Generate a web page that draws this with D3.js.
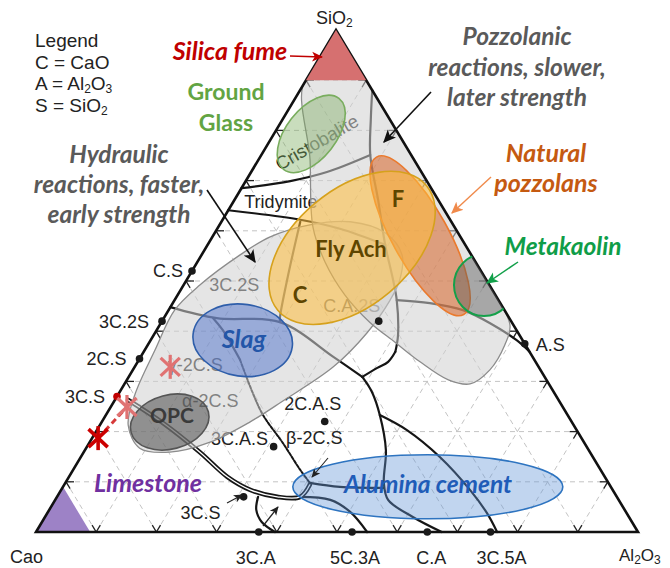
<!DOCTYPE html>
<html>
<head>
<meta charset="utf-8">
<script src="https://cdn.jsdelivr.net/npm/d3@7"></script>
<style>
  html, body { margin: 0; padding: 0; background: #fff; }
  svg { display: block; }
  .lbl { font-family: "Liberation Sans", Arial, sans-serif; font-size: 18px; fill: #222; }
  .leg { font-family: "Liberation Sans", Arial, sans-serif; font-size: 19px; fill: #222; }
  .ann { font-family: Lato, "Open Sans", sans-serif; font-weight: 700; }
</style>
</head>
<body>
<svg id="chart" width="670" height="568"></svg>
<script>
// ------------------------------------------------------------------
// Compositions are weight-% triples: [CaO, Al2O3, SiO2]
// ------------------------------------------------------------------

// Corners of the CaO - Al2O3 - SiO2 diagram
const vertices = [
  { name: "Cao",   comp: [100, 0, 0] },
  { name: "Al2O3", comp: [0, 100, 0] },
  { name: "SiO2",  comp: [0, 0, 100] }
];

// Grid levels (wt-%)
const gridLevels = [10, 20, 30, 40, 50, 60, 70, 80, 90];

// Compounds marked with a dot
const compounds = [
  { name: "C.S",    comp: [48, 0, 52] },
  { name: "3C.2S",  comp: [58, 0, 42] },
  { name: "2C.S",   comp: [65.5, 0, 34.5] },
  { name: "3C.S",   comp: [73, 0, 27] },
  { name: "3C.A",   comp: [63, 37, 0] },
  { name: "5C.3A",  comp: [47.5, 52.5, 0] },
  { name: "C.A",    comp: [35, 65, 0] },
  { name: "3C.5A",  comp: [24.5, 75.5, 0] },
  { name: "A.S",    comp: [0, 62.5, 37.5] },
  { name: "C.A.2S", comp: [22, 36, 42] },
  { name: "2C.A.S", comp: [41, 37, 22] },
  { name: "3C.A.S", comp: [52, 31, 17] },
  { name: "3C.S*",  comp: [62, 31, 7] }
];

// Primary-phase field names written inside the diagram
const fieldNames = [
  { name: "Cristobalite", comp: [14.45, 9.05, 76.5] },
  { name: "Tridymite",    comp: [26.95, 8.55, 64.5] },
  { name: "3C.2S",        comp: [43, 9, 48] },
  { name: "γ-2C.S",       comp: [57.5, 10.5, 32] },
  { name: "α-2C.S",       comp: [58.5, 16.5, 25] },
  { name: "β-2C.S",       comp: [45, 37.5, 17.5] }
];

// Liquidus boundary curves
const boundaryCristobalite = [[31.5,0,68.5],[22.7,7.4,69.9],[15.7,12.6,71.7],[6.8,18.1,75.1]];
const boundaryTridymite    = [[35.9,0,64.1],[24.9,12.9,62.2],[19.2,20.4,60.4],[13.3,29.5,57.2]];
const boundaryMullite      = [[0,12,88],[3.2,14.7,82.1],[6.8,18.1,75.1],[10,23.9,66.1],[13.3,29.5,57.2],
                              [15.5,34.3,50.2],[16.9,36.9,46.2],[20.2,40.6,39.2],[22.3,41.8,35.9]];
const boundaryAnorthite    = [[16.9,36.9,46.2],[11.7,42.7,45.6],[6.9,48.9,44.2],[3.7,54.7,41.6],[1,60.8,38.2],[0,64.1,35.9]];
const boundaryGehleniteTop = [[22.3,41.8,35.9],[24.5,41.6,33.9],[26.9,40.4,32.7],[30.3,38.8,30.9]];
const boundaryRankinite    = [[55.2,0,44.8],[48.6,8.8,42.6],[38.5,19.7,41.8],[33.1,32,34.9],[30.3,38.8,30.9]];
const boundaryWollastonite = [[25.1,13.1,61.8],[32.7,16.5,50.8],[38,19.2,42.8],[38.5,19.7,41.8]];
const boundaryC2SUpper     = [[49.2,8.2,42.6],[48.8,11,40.2],[48.9,16.8,34.3]];
const boundaryC2SLower     = [[48.9,16.8,34.3],[50.1,22.2,27.7],[50.6,26.1,23.3],[50.1,32.2,17.7],[49.9,37.7,12.4],[49.6,40.6,9.8]];
const boundaryC3S          = [[71.5,2.2,26.3],[68,10.3,21.7],[64.8,19.3,15.9],[62.7,26.3,11],[60.2,31.4,8.4],
                              [56.4,36.6,7],[52.6,40.4,7],[49.8,40.8,9.4]];
const boundaryC3A          = [[59.6,33.4,7],[61.2,34.4,4.4],[61.5,36.5,2],[60.3,39.7,0]];
const boundaryC12A7        = [[52.6,40.4,7],[47.9,45.7,6.4],[45.8,50.2,4],[45,55,0]];
const boundaryCA           = [[30.3,38.8,30.9],[30.2,41.9,27.9],[31.2,45.5,23.3],[33.7,50,16.3],[37.3,52.9,9.8],
                              [38.3,55.3,6.4],[35.9,61.1,3],[32.6,67.4,0]];
const boundaryCA2          = [[31.2,45.5,23.3],[28.2,51.5,20.3],[25.4,59.7,14.9],[23.7,67.9,8.4],[23.2,73,3.8],[23.4,76.6,0]];
const boundaryGehleniteLow = [[49.6,40.6,9.8],[45,46,9],[37.8,53.4,8.8]];

// Reaction zones (outlines)
const hydraulicZone = [[74,4.7,21.3],[69.9,2.8,27.3],[62,1.7,36.3],[54.8,1,44.2],[48.1,2.7,49.2],[38.4,6.4,55.2],
                       [31.6,9.6,58.8],[23.8,15,61.2],[16.8,21.4,61.8],[12.1,28.3,59.6],[11.5,33.3,55.2],[14.4,35.4,50.2],
                       [18,35.8,46.2],[25.2,35.2,39.6],[34.1,33,32.9],[45.9,28,26.1],[53.5,24.6,21.9],[62.1,20,17.9],
                       [69.8,14.3,15.9],[74.4,8.9,16.7]];
const pozzolanicZone = [[10,0,90],[0,10,90],[0,20,80],[0,30,70],[0,40,60],[0,50,50],[0.6,58.2,41.2],[3.4,59.3,37.3],
                        [8.4,59.3,32.3],[13.1,57.4,29.5],[16.3,53.4,30.3],[19.2,46.9,33.9],[21.4,40.8,37.8],[23.6,34.6,41.8],
                        [25,27.8,47.2],[25,21.2,53.8],[23.5,15.7,60.8],[17.3,8.6,74.1]];

// Material fields
const silicaFume = [[0,0,100],[10,0,90],[0,10,90]];
const limestone  = [[100,0,0],[91,9,0],[91,0,9]];
const materials = [
  { name: "Ground Glass",      center: [14.5, 6.2, 79.3] },
  { name: "Slag",              center: [46.5, 15.3, 38.2] },
  { name: "OPC",               center: [66.8, 11.3, 21.9] },
  { name: "Alumina cement",    center: [30.4, 60.6, 9.0] },
  { name: "Natural pozzolans", center: [6.6, 34.4, 59.0] },
  { name: "Fly Ash",           center: [19.1, 24.3, 56.6] },
  { name: "Metakaolin",        center: [0.9, 49.9, 49.2] }
];

// Crossed-out compositions
const crossMarks = [
  { comp: [80.3, 1.0, 18.7], strong: true },
  { comp: [72.4, 2.7, 24.9], strong: false },
  { comp: [61.2, 5.9, 32.9], strong: false }
];

// ------------------------------------------------------------------
// Ternary projection built on linear scales
// ------------------------------------------------------------------
const baseX = 36;
const xAl = d3.scaleLinear().domain([0, 100]).range([0, 602]);
const xSi = d3.scaleLinear().domain([0, 100]).range([0, 300]);
const ySi = d3.scaleLinear().domain([0, 100]).range([532, 30]);
function proj(comp) {
  const t = comp[0] + comp[1] + comp[2];
  const a = comp[1] * 100 / t, s = comp[2] * 100 / t;
  return [baseX + xAl(a) + xSi(s), ySi(s)];
}

const svg = d3.select("#chart");
const defs = svg.append("defs");

const triangle = vertices.map(v => proj(v.comp));
const polyPath = pts => "M" + pts.map(p => p.join(",")).join("L") + "Z";
defs.append("clipPath").attr("id", "triClip").append("path").attr("d", polyPath(triangle));

function addMarker(id, color, size) {
  defs.append("marker").attr("id", id)
    .attr("viewBox", "0 0 10 10").attr("refX", 9).attr("refY", 5)
    .attr("markerWidth", size).attr("markerHeight", size)
    .attr("markerUnits", "userSpaceOnUse").attr("orient", "auto")
    .append("path").attr("d", "M0,0.5L10,5L0,9.5L2.5,5z").attr("fill", color);
}
addMarker("arBlack", "#111", 13);
addMarker("arSmall", "#222", 9);
addMarker("arRed", "#c00000", 11);
addMarker("arOrange", "#f08a4b", 12);
addMarker("arGreen", "#12a04a", 12);

const smooth = d3.line().curve(d3.curveCatmullRom.alpha(0.5));
const smoothClosed = d3.line().curve(d3.curveCatmullRomClosed.alpha(0.5));

// ---------------- grid ----------------
const gridSegs = [];
gridLevels.forEach(k => {
  gridSegs.push([[100 - k, 0, k], [0, 100 - k, k]]);
  gridSegs.push([[100 - k, k, 0], [0, k, 100 - k]]);
  gridSegs.push([[k, 100 - k, 0], [k, 0, 100 - k]]);
});
const gGrid = svg.append("g");
gGrid.selectAll("line").data(gridSegs).join("line")
  .attr("x1", d => proj(d[0])[0]).attr("y1", d => proj(d[0])[1])
  .attr("x2", d => proj(d[1])[0]).attr("y2", d => proj(d[1])[1])
  .attr("stroke", "#c4c4c4").attr("stroke-width", 1).attr("stroke-dasharray", "5,4");

// edge ticks where each grid line meets the outline
const tickSegs = [];
gridSegs.forEach(([p0, p1]) => {
  [[p0, p1], [p1, p0]].forEach(([e, o]) => {
    const a = proj(e), b = proj(o);
    const L = Math.hypot(b[0] - a[0], b[1] - a[1]);
    tickSegs.push([a, [a[0] + 8 * (b[0] - a[0]) / L, a[1] + 8 * (b[1] - a[1]) / L]]);
  });
});
svg.append("g").selectAll("line").data(tickSegs).join("line")
  .attr("x1", d => d[0][0]).attr("y1", d => d[0][1])
  .attr("x2", d => d[1][0]).attr("y2", d => d[1][1])
  .attr("stroke", "#222").attr("stroke-width", 1.3);

// ---------------- phase boundaries ----------------
const gLines = svg.append("g").attr("fill", "none").attr("stroke", "#151515")
  .attr("stroke-linejoin", "round").attr("stroke-linecap", "round");
const solidLines = [boundaryCristobalite, boundaryTridymite, boundaryMullite, boundaryAnorthite,
  boundaryGehleniteTop, boundaryRankinite, boundaryWollastonite, boundaryC2SUpper, boundaryC3A,
  boundaryC12A7, boundaryCA, boundaryCA2, boundaryGehleniteLow];
gLines.selectAll("path.solid").data(solidLines).join("path").attr("class", "solid")
  .attr("d", d => smooth(d.map(proj))).attr("stroke-width", 2.2);
gLines.append("path").attr("d", smooth(boundaryC2SLower.map(proj)))
  .attr("stroke-width", 2).attr("stroke-dasharray", "3,1.6");
// double line for the tricalcium silicate boundary
gLines.append("path").attr("d", smooth(boundaryC3S.map(proj))).attr("stroke-width", 4.6);
gLines.append("path").attr("d", smooth(boundaryC3S.map(proj))).attr("stroke", "#fff").attr("stroke-width", 1.3);

// ---------------- text labels of compounds and fields ----------------
const labelOffsets = {
  "C.S": [-9, 6, "end"], "3C.2S": [-13, 7, "end"], "2C.S": [-13, 6, "end"], "3C.S": [-12, 7, "end"],
  "3C.A": [-3, 32, "middle"], "5C.3A": [3, 32, "middle"], "C.A": [4, 32, "middle"], "3C.5A": [11, 32, "middle"],
  "A.S": [11, 7, "start"], "C.A.2S": [-27, -9, "middle"], "2C.A.S": [-12, -12, "middle"],
  "3C.A.S": [-34, -2, "middle"], "3C.S*": [-43, 22, "middle"]
};
const gText = svg.append("g");
compounds.forEach(c => {
  const p = proj(c.comp), o = labelOffsets[c.name];
  gText.append("text").attr("class", "lbl")
    .attr("x", p[0] + o[0]).attr("y", p[1] + o[1]).attr("text-anchor", o[2])
    .text(c.name.replace("*", ""));
});
fieldNames.forEach(f => {
  const p = proj(f.comp);
  const t = gText.append("text").attr("class", "lbl").attr("text-anchor", "middle")
    .attr("x", p[0]).attr("y", p[1]).text(f.name);
  if (f.name === "Cristobalite") t.attr("transform", `rotate(-30,${p[0]},${p[1]})`).style("font-size", "18.5px");
});

// ---------------- material fields ----------------
svg.append("path").attr("d", polyPath(limestone.map(proj))).attr("fill", "#9d82c6");

const gZones = svg.append("g").attr("clip-path", "url(#triClip)");
[hydraulicZone, pozzolanicZone].forEach(z => {
  gZones.append("path").attr("d", smoothClosed(z.map(proj)))
    .attr("fill", "#cfcfcf").attr("fill-opacity", 0.55)
    .attr("stroke", "#8c8c8c").attr("stroke-width", 1.3);
});

const ellipseStyle = {
  "Ground Glass":      { rx: 45, ry: 25, rot: -52, fill: "rgba(120,170,90,0.40)", stroke: "#79ad5e" },
  "Slag":              { rx: 50, ry: 36, rot: 8, fill: "rgba(60,100,200,0.45)", stroke: "#2e5eaa" },
  "OPC":               { rx: 40, ry: 27, rot: -15, fill: "rgba(60,60,60,0.50)", stroke: "#555" },
  "Alumina cement":    { rx: 135, ry: 32, rot: 0, fill: "rgba(100,150,215,0.40)", stroke: "#2e74c0" },
  "Natural pozzolans": { rx: 90, ry: 28, rot: 61, fill: "rgba(215,100,40,0.55)", stroke: "#ea7a2e" },
  "Fly Ash":           { rx: 97, ry: 58, rot: -40, fill: "rgba(255,190,60,0.55)", stroke: "#d6a11c" },
  "Metakaolin":        { rx: 30, ry: 31, rot: 0, fill: "rgba(90,90,90,0.45)", stroke: "#14a04a" }
};
const gMat = svg.append("g").attr("clip-path", "url(#triClip)");
materials.filter(m => m.name !== "Metakaolin").forEach(m => {
  const p = proj(m.center), s = ellipseStyle[m.name];
  gMat.append("ellipse").attr("rx", s.rx).attr("ry", s.ry)
    .attr("transform", `translate(${p[0]},${p[1]}) rotate(${s.rot})`)
    .attr("fill", s.fill).attr("stroke", s.stroke).attr("stroke-width", 1.6);
});

// ---------------- outline ----------------
svg.append("path").attr("d", polyPath(triangle)).attr("fill", "none")
  .attr("stroke", "#111").attr("stroke-width", 2.6).attr("stroke-linejoin", "miter");

svg.append("path").attr("d", polyPath(silicaFume.map(proj))).attr("fill", "#d67070");

// metakaolin sits over the Al2O3-SiO2 side
{
  const m = materials.find(d => d.name === "Metakaolin"), p = proj(m.center), s = ellipseStyle[m.name];
  svg.append("g").attr("clip-path", "url(#triClip)").append("ellipse")
    .attr("rx", s.rx).attr("ry", s.ry).attr("transform", `translate(${p[0]},${p[1]}) rotate(${s.rot})`)
    .attr("fill", s.fill).attr("stroke", s.stroke).attr("stroke-width", 2);
}

// ---------------- compound dots ----------------
svg.append("g").selectAll("circle").data(compounds).join("circle")
  .attr("cx", d => proj(d.comp)[0]).attr("cy", d => proj(d.comp)[1])
  .attr("r", 3.8).attr("fill", d => d.name === "3C.S" ? "#c00000" : "#1a1a1a");

// ---------------- crossed-out marks ----------------
const gX = svg.append("g").attr("stroke-linecap", "butt");
{
  const a = proj(crossMarks[0].comp), b = proj(crossMarks[1].comp);
  gX.append("line").attr("x1", a[0]).attr("y1", a[1]).attr("x2", b[0]).attr("y2", b[1])
    .attr("stroke", "#d63a3a").attr("stroke-width", 3).attr("stroke-dasharray", "6,4");
}
crossMarks.forEach(c => {
  const p = proj(c.comp), r = 12;
  const col = c.strong ? "#cc0000" : "#e07272";
  const arms = [[0, -r, 0, r], [-r * 0.8, -r * 0.75, r * 0.8, r * 0.75], [-r * 0.8, r * 0.75, r * 0.8, -r * 0.75]];
  arms.forEach(a => gX.append("line")
    .attr("x1", p[0] + a[0]).attr("y1", p[1] + a[1]).attr("x2", p[0] + a[2]).attr("y2", p[1] + a[3])
    .attr("stroke", col).attr("stroke-width", c.strong ? 3.6 : 3.2));
});

// ---------------- vertex labels ----------------
function subText(sel, parts) {
  parts.forEach(([txt, sub]) => {
    const t = sel.append("tspan").text(txt);
    if (sub) t.attr("font-size", "12px").attr("dy", 3);
    else if (sel.selectAll("tspan").size() > 1) t.attr("dy", -3);
  });
}
{
  const pc = proj(vertices[0].comp), pa = proj(vertices[1].comp), ps = proj(vertices[2].comp);
  svg.append("text").attr("class", "lbl").attr("x", pc[0] - 26).attr("y", pc[1] + 31).text("Cao");
  subText(svg.append("text").attr("class", "lbl").attr("x", pa[0] - 19).attr("y", pa[1] + 29)
    .style("font-size", "17px"), [["Al"], ["2", true], ["O"], ["3", true]]);
  subText(svg.append("text").attr("class", "lbl").attr("x", ps[0] - 20).attr("y", ps[1] - 6),
    [["SiO"], ["2", true]]);
}

// ---------------- legend ----------------
{
  const lg = svg.append("g");
  lg.append("text").attr("class", "leg").attr("x", 35).attr("y", 47).text("Legend");
  lg.append("text").attr("class", "leg").attr("x", 35).attr("y", 69).text("C = CaO");
  subText(lg.append("text").attr("class", "leg").attr("x", 35).attr("y", 90),
    [["A = Al"], ["2", true], ["O"], ["3", true]]);
  subText(lg.append("text").attr("class", "leg").attr("x", 35).attr("y", 112),
    [["S = SiO"], ["2", true]]);
}

// ---------------- annotations ----------------
const notes = [
  { lines: ["Silica fume"], x: 230, y: 60, lh: 0, color: "#c00000", italic: true, size: 25 },
  { lines: ["Ground", "Glass"], x: 226, y: 100, lh: 31, color: "#62a443", italic: false, size: 23 },
  { lines: ["Pozzolanic", "reactions, slower,", "later strength"], x: 517, y: 45, lh: 30.5, color: "#5a5a5a", italic: true, size: 24.5 },
  { lines: ["Hydraulic", "reactions, faster,", "early strength"], x: 119, y: 163, lh: 30, color: "#5a5a5a", italic: true, size: 24.5 },
  { lines: ["Natural", "pozzolans"], x: 546, y: 162, lh: 30, color: "#c55a11", italic: true, size: 25 },
  { lines: ["Metakaolin"], x: 563, y: 255, lh: 0, color: "#0f9d48", italic: true, size: 24.5 },
  { lines: ["Fly Ach"], x: 351, y: 257, lh: 0, color: "#5e4500", italic: false, size: 22 },
  { lines: ["C"], x: 300, y: 303, lh: 0, color: "#5e4500", italic: false, size: 22 },
  { lines: ["F"], x: 398, y: 207, lh: 0, color: "#5e4500", italic: false, size: 22 },
  { lines: ["Slag"], x: 244, y: 348, lh: 0, color: "#2356a8", italic: true, size: 25 },
  { lines: ["OPC"], x: 172, y: 423, lh: 0, color: "#3a3a3a", italic: false, size: 21 },
  { lines: ["Limestone"], x: 148, y: 492, lh: 0, color: "#7030a0", italic: true, size: 25 },
  { lines: ["Alumina cement"], x: 428, y: 493, lh: 0, color: "#1f5cb8", italic: true, size: 24.5 }
];
notes.forEach(n => {
  n.lines.forEach((ln, i) => {
    svg.append("text").attr("class", "ann").attr("text-anchor", "middle")
      .attr("x", n.x).attr("y", n.y + i * n.lh)
      .attr("fill", n.color).style("font-size", n.size + "px")
      .style("font-style", n.italic ? "italic" : "normal").text(ln);
  });
});

// pointer arrows
const pointers = [
  { from: [207, 190], to: [255, 262], color: "#111", w: 1.6, m: "arBlack" },
  { from: [431, 92], to: [384, 142], color: "#111", w: 1.6, m: "arBlack" },
  { from: [290, 56], to: [322, 57], color: "#c00000", w: 1.6, m: "arRed" },
  { from: [491, 177], to: [452, 213], color: "#f08a4b", w: 1.4, m: "arOrange" },
  { from: [518, 262], to: [487, 283], color: "#12a04a", w: 1.5, m: "arGreen" },
  { from: [328, 458], to: [312, 477], color: "#222", w: 1.1, m: "arSmall" },
  { from: [227, 503], to: [242, 495], color: "#222", w: 1.1, m: "arSmall" },
  { from: [263, 526], to: [278, 507], color: "#222", w: 1.3, m: "arSmall" }
];
svg.append("g").selectAll("line").data(pointers).join("line")
  .attr("x1", d => d.from[0]).attr("y1", d => d.from[1])
  .attr("x2", d => d.to[0]).attr("y2", d => d.to[1])
  .attr("stroke", d => d.color).attr("stroke-width", d => d.w)
  .attr("marker-end", d => `url(#${d.m})`);
</script>
</body>
</html>
